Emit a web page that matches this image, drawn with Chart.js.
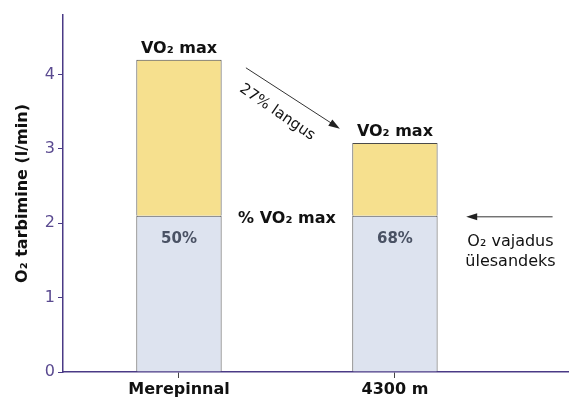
<!DOCTYPE html>
<html>
<head>
<meta charset="utf-8">
<script src="https://cdn.jsdelivr.net/npm/chart.js@4.4.1/dist/chart.umd.min.js"></script>
<style>
  html, body { margin: 0; padding: 0; background: #fff; }
  #wrap { width: 569px; height: 403px; }
</style>
</head>
<body>
<div id="wrap"><canvas id="c"></canvas></div>
<script>
// Oxygen uptake at sea level and at 4300 m
const categories = ['Merepinnal', '4300 m'];
const categoryPos = [1, 2];
const taskDemand = [2.1, 2.1];          // O2 needed for the task (l/min)
const vo2max = [4.2, 3.08];             // maximal O2 uptake (l/min)
const headroom = vo2max.map((v, i) => +(v - taskDemand[i]).toFixed(2));
const shareLabels = ['50%', '68%'];
const yTicks = [0, 1, 2, 3, 4];

const AXIS = '#4a3a86';
const FONT = '"DejaVu Sans", sans-serif';

const notes = {
  id: 'notes',
  afterDatasetsDraw(chart) {
    const { ctx, scales: { x, y } } = chart;
    ctx.save();
    ctx.fillStyle = '#111';
    ctx.textAlign = 'center';
    ctx.textBaseline = 'alphabetic';

    // VO2 max above each bar
    ctx.font = 'bold 16px ' + FONT;
    categoryPos.forEach((c, i) => {
      ctx.fillText('VO₂ max', x.getPixelForValue(c), y.getPixelForValue(vo2max[i]) - 7);
    });

    // share of VO2 max inside the lower segment
    ctx.fillStyle = '#4a5264';
    ctx.font = 'bold 15px ' + FONT;
    categoryPos.forEach((c, i) => {
      ctx.fillText(shareLabels[i], x.getPixelForValue(c), y.getPixelForValue(taskDemand[i]) + 27);
    });

    // middle caption
    ctx.fillStyle = '#111';
    ctx.font = 'bold 16px ' + FONT;
    ctx.fillText('% VO₂ max', x.getPixelForValue(1.5), y.getPixelForValue(taskDemand[0]) + 7);

    // decline arrow between the two maxima
    const ax1 = x.getPixelForValue(1.31), ay1 = y.getPixelForValue(4.09);
    const ax2 = x.getPixelForValue(1.745), ay2 = y.getPixelForValue(3.27);
    ctx.strokeStyle = '#333';
    ctx.lineWidth = 1;
    ctx.beginPath(); ctx.moveTo(ax1, ay1); ctx.lineTo(ax2 - 6, ay2 - 4); ctx.stroke();
    const ang = Math.atan2(ay2 - ay1, ax2 - ax1);
    ctx.fillStyle = '#222';
    ctx.beginPath();
    ctx.moveTo(ax2, ay2);
    ctx.lineTo(ax2 - 12 * Math.cos(ang - 0.32), ay2 - 12 * Math.sin(ang - 0.32));
    ctx.lineTo(ax2 - 12 * Math.cos(ang + 0.32), ay2 - 12 * Math.sin(ang + 0.32));
    ctx.closePath(); ctx.fill();

    ctx.save();
    ctx.translate(x.getPixelForValue(1.455), y.getPixelForValue(3.49));
    ctx.rotate(0.6);
    ctx.textBaseline = 'middle';
    ctx.fillStyle = '#111';
    ctx.font = '15px ' + FONT;
    ctx.fillText('27% langus', 0, 0);
    ctx.restore();

    // task demand pointer
    const ry = y.getPixelForValue(2.1) + 1;
    const rx1 = x.getPixelForValue(2.73), rx2 = x.getPixelForValue(2.33);
    ctx.strokeStyle = '#333';
    ctx.beginPath(); ctx.moveTo(rx1, ry); ctx.lineTo(rx2 + 6, ry); ctx.stroke();
    ctx.fillStyle = '#222';
    ctx.beginPath();
    ctx.moveTo(rx2, ry); ctx.lineTo(rx2 + 11, ry - 3.5); ctx.lineTo(rx2 + 11, ry + 3.5);
    ctx.closePath(); ctx.fill();

    ctx.fillStyle = '#111';
    ctx.font = '16px ' + FONT;
    ctx.fillText('O₂ vajadus', x.getPixelForValue(2.535), y.getPixelForValue(1.69));
    ctx.fillText('ülesandeks', x.getPixelForValue(2.535), y.getPixelForValue(1.42));
    ctx.restore();
  }
};

new Chart(document.getElementById('c'), {
  type: 'bar',
  data: {
    datasets: [
      {
        label: 'O₂ vajadus',
        data: categoryPos.map((c, i) => ({ x: c, y: taskDemand[i] })),
        backgroundColor: '#dde3ef',
        borderColor: '#4a4a4a',
        borderWidth: 1,
        stack: 's',
        categoryPercentage: 1,
        barPercentage: 0.395
      },
      {
        label: 'VO₂ max',
        data: categoryPos.map((c, i) => ({ x: c, y: headroom[i] })),
        backgroundColor: '#f6e08e',
        borderColor: '#4a4a4a',
        borderWidth: 1,
        stack: 's',
        categoryPercentage: 1,
        barPercentage: 0.395
      }
    ]
  },
  options: {
    responsive: true,
    maintainAspectRatio: false,
    animation: false,
    layout: { padding: { top: 15, right: 0, left: 0, bottom: 0 } },
    plugins: { legend: { display: false }, tooltip: { enabled: false } },
    scales: {
      x: {
        type: 'linear',
        offset: false,
        min: 0.463,
        max: 2.806,
        afterBuildTicks: (s) => { s.ticks = categoryPos.map(v => ({ value: v })); },
        afterFit: (s) => { s.height = 31; },
        grid: { display: true, offset: false, drawOnChartArea: false, drawTicks: true, tickLength: 6, color: '#444' },
        border: { color: AXIS, width: 1.5 },
        ticks: {
          callback: (v) => categories[categoryPos.indexOf(v)] || '',
          color: '#111',
          font: { family: FONT, size: 16, weight: 'bold' },
          padding: 2,
          autoSkip: false,
          maxRotation: 0
        }
      },
      y: {
        stacked: true,
        min: 0,
        max: 4.8,
        afterBuildTicks: (s) => { s.ticks = yTicks.map(v => ({ value: v })); },
        afterFit: (s) => { s.width = 63; },
        grid: { display: true, drawOnChartArea: false, drawTicks: true, tickLength: 5, color: AXIS },
        border: { color: AXIS, width: 1.5 },
        ticks: {
          color: '#5a4a90',
          font: { family: FONT, size: 16 },
          padding: 3
        },
        title: {
          display: true,
          text: 'O₂ tarbimine (l/min)',
          color: '#111',
          font: { family: FONT, size: 16, weight: 'bold' },
          padding: { top: 13, bottom: 0 }
        }
      }
    }
  },
  plugins: [notes]
});
</script>
</body>
</html>
